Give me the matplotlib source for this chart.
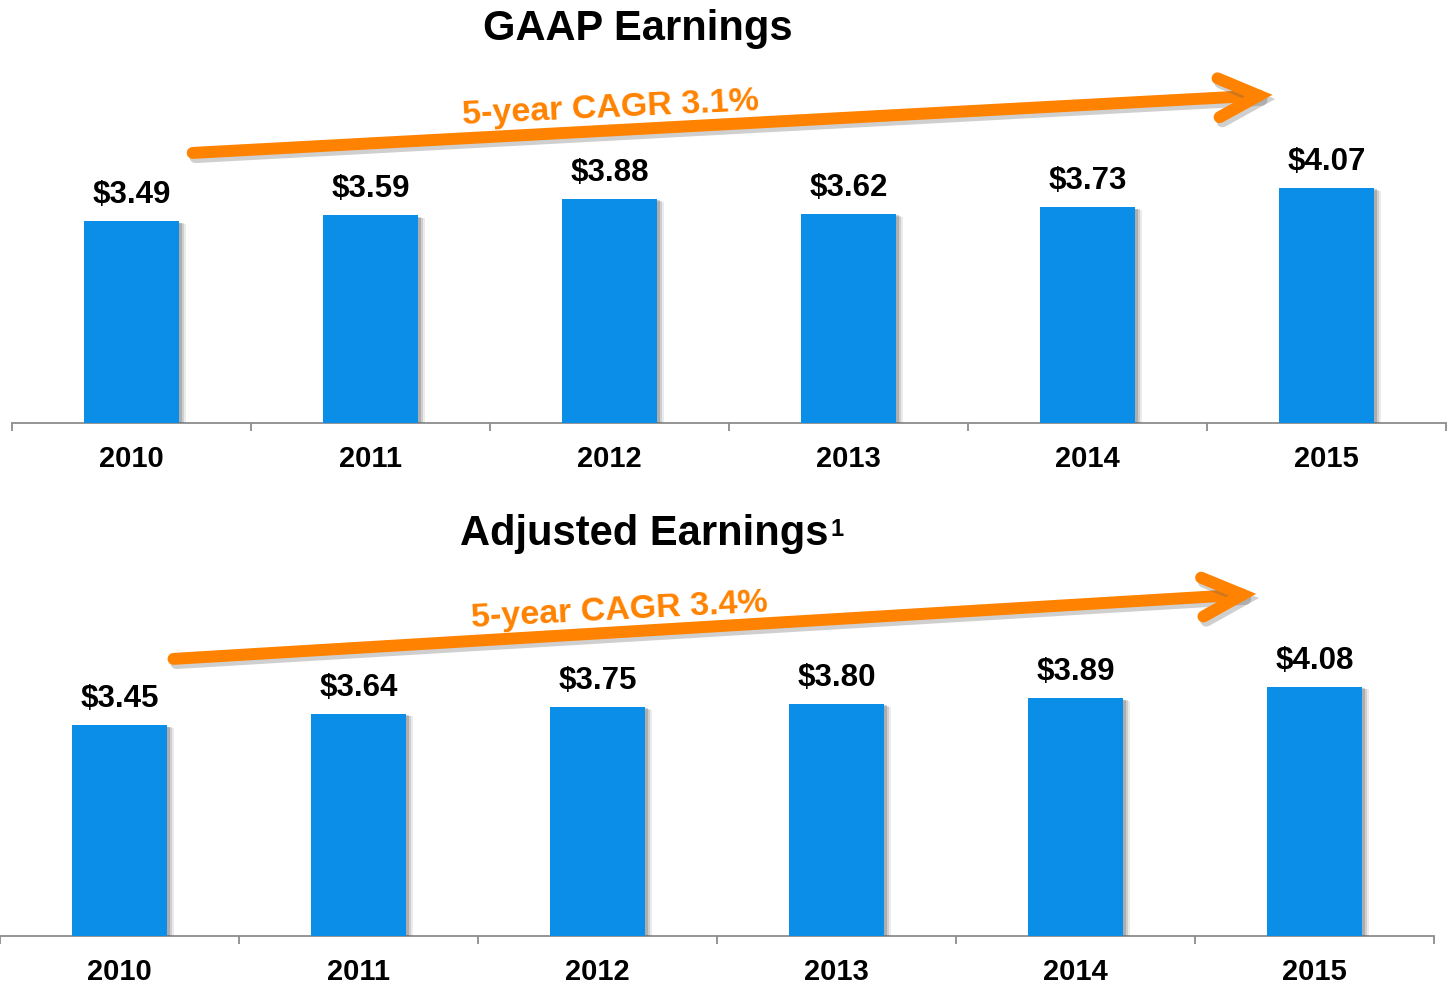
import numpy as np
import matplotlib
matplotlib.use('Agg')
import matplotlib.pyplot as plt
import matplotlib.patheffects as pe

plt.rcParams['font.family'] = ['Liberation Sans', 'DejaVu Sans']

# data
years = ['2010', '2011', '2012', '2013', '2014', '2015']
gaap = [3.49, 3.59, 3.88, 3.62, 3.73, 4.07]
adjusted = [3.45, 3.64, 3.75, 3.80, 3.89, 4.08]
gaap_cagr = '5-year CAGR 3.1%'
adj_cagr = '5-year CAGR 3.4%'

BLUE = '#0A8EE8'
ORANGE = '#FF8200'
GRAY = '#8c8c8c'

W, H = 1447, 984
fig = plt.figure(figsize=(W / 100, H / 100), dpi=100)


def px_axes(x0, x1, y_base, y_top):
	# axes placed by pixel edges (y measured from the top)
	return fig.add_axes([x0 / W, 1 - y_base / H, (x1 - x0) / W, (y_base - y_top) / H])


def draw_panel(ax, values, ytop, cagr, arrow_start, arrow_end, text_pos, text_rot):
	x = np.arange(len(values))
	# soft shadow: a few offset copies with falling alpha
	shadow = [pe.SimplePatchShadow(offset=(5, -2), shadow_rgbFace='#606060', alpha=0.12),
			  pe.SimplePatchShadow(offset=(3.5, -1.5), shadow_rgbFace='#606060', alpha=0.2),
			  pe.SimplePatchShadow(offset=(2, -1), shadow_rgbFace='#606060', alpha=0.3),
			  pe.Normal()]
	bars = ax.bar(x, values, width=0.40, color=BLUE, zorder=3)
	for b in bars:
		b.set_path_effects(shadow)
	for xi, v in zip(x, values):
		ax.annotate('$%.2f' % v, xy=(xi, v), xytext=(0, 13), textcoords='offset points',
					ha='center', va='baseline', fontsize=22.5, fontweight='bold', color='black')

	ax.set_xlim(-0.5, len(values) - 0.5)
	ax.set_ylim(0, ytop)
	ax.set_xticks(x)
	ax.set_xticklabels(years, fontsize=21, fontweight='bold')
	ax.set_xticks(np.arange(-0.5, len(values), 1), minor=True)
	ax.tick_params(axis='x', which='major', length=0, pad=16)
	ax.tick_params(axis='x', which='minor', length=6, width=1.3, color=GRAY)
	ax.set_yticks([])
	for s in ['top', 'left', 'right']:
		ax.spines[s].set_visible(False)
	ax.spines['bottom'].set_color(GRAY)
	ax.spines['bottom'].set_linewidth(1.3)
	ax.patch.set_alpha(0)

	# CAGR arrow
	ax.annotate('', xy=arrow_end, xytext=arrow_start, xycoords='axes fraction',
				arrowprops=dict(arrowstyle='->,head_length=1.45,head_width=0.7',
								mutation_scale=20, lw=8.6, color=ORANGE,
								shrinkA=0, shrinkB=0, capstyle='round', joinstyle='miter',
								path_effects=[pe.SimpleLineShadow(offset=(2, -3), shadow_color='#606060', alpha=0.3),
											  pe.Normal()]),
				annotation_clip=False, zorder=4)
	ax.text(text_pos[0], text_pos[1], cagr, transform=ax.transAxes, rotation=text_rot,
			rotation_mode='anchor', ha='center', va='baseline', fontsize=24.5,
			fontweight='bold', color=ORANGE, zorder=5)


ax1 = px_axes(12, 1446, 423, 60)
draw_panel(ax1, gaap, (423 - 60) / 57.8, gaap_cagr,
		   (0.126, 0.744), (0.879, 0.904), (0.418, 0.844), 2.7)

ax2 = px_axes(0, 1434, 936, 560)
draw_panel(ax2, adjusted, (936 - 560) / 61.1, adj_cagr,
		   (0.121, 0.737), (0.876, 0.910), (0.432, 0.842), 3.0)

fig.text(638 / W, 1 - 40 / H, 'GAAP Earnings', ha='center', va='baseline',
		 fontsize=30, fontweight='bold')
t = fig.text(644 / W, 1 - 545 / H, 'Adjusted Earnings', ha='center', va='baseline',
			 fontsize=30, fontweight='bold')
fig.canvas.draw()
bb = t.get_window_extent()
fig.text((bb.x1 + 2) / W, (bb.y1 - 4) / H, '1', fontsize=17, fontweight='bold',
		 ha='left', va='top')

fig.savefig('out.png', dpi=100, facecolor='white')
